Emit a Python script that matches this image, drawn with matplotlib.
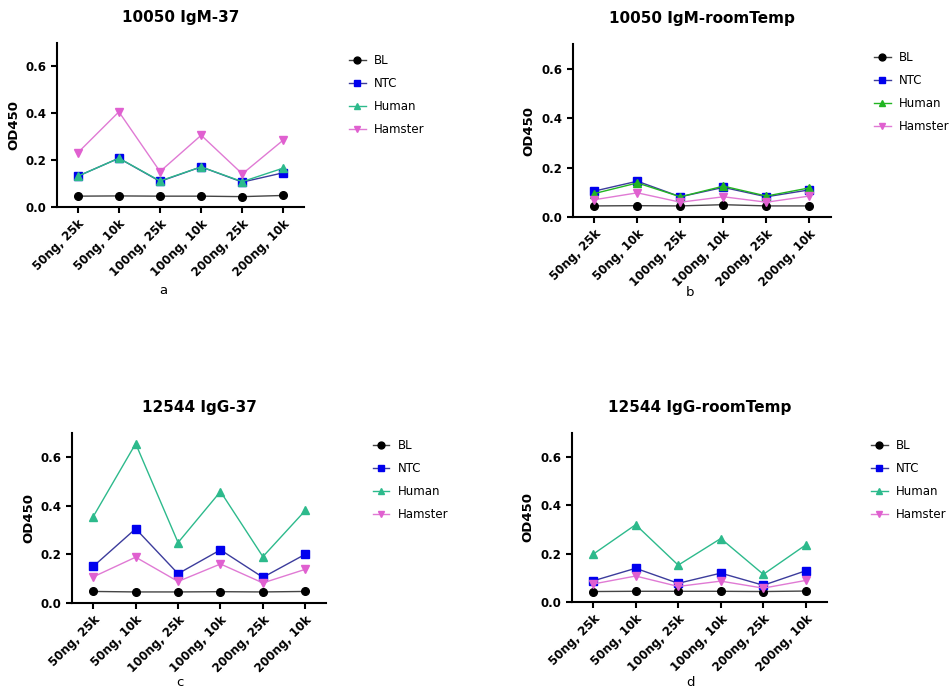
import matplotlib
matplotlib.use("Agg")
import matplotlib.pyplot as plt

conditions = ["50ng, 25k", "50ng, 10k", "100ng, 25k", "100ng, 10k", "200ng, 25k", "200ng, 10k"]
groups = ["BL", "NTC", "Human", "Hamster"]

# a: 10050 IgM-37
igm37_bl = [0.045, 0.046, 0.045, 0.045, 0.043, 0.048]
igm37_ntc = [0.130, 0.207, 0.108, 0.170, 0.105, 0.145]
igm37_human = [0.130, 0.207, 0.110, 0.170, 0.107, 0.165]
igm37_hamster = [0.230, 0.405, 0.150, 0.305, 0.140, 0.285]

# b: 10050 IgM-roomTemp
igmrt_bl = [0.045, 0.046, 0.045, 0.050, 0.045, 0.045]
igmrt_ntc = [0.105, 0.145, 0.082, 0.120, 0.082, 0.110]
igmrt_human = [0.095, 0.138, 0.082, 0.125, 0.085, 0.118]
igmrt_hamster = [0.070, 0.098, 0.060, 0.082, 0.060, 0.085]

# c: 12544 IgG-37
igg37_bl = [0.047, 0.045, 0.045, 0.046, 0.045, 0.047]
igg37_ntc = [0.150, 0.305, 0.120, 0.218, 0.105, 0.200]
igg37_human = [0.355, 0.655, 0.248, 0.458, 0.190, 0.380]
igg37_hamster = [0.107, 0.188, 0.088, 0.160, 0.082, 0.138]

# d: 12544 IgG-roomTemp
iggrt_bl = [0.044, 0.045, 0.045, 0.045, 0.044, 0.046]
iggrt_ntc = [0.088, 0.140, 0.078, 0.120, 0.070, 0.130]
iggrt_human = [0.198, 0.320, 0.153, 0.263, 0.115, 0.237]
iggrt_hamster = [0.075, 0.108, 0.065, 0.087, 0.058, 0.090]

panels = [
    ("10050 IgM-37", "a", [igm37_bl, igm37_ntc, igm37_human, igm37_hamster],
     [0.060, 0.700, 0.259, 0.238], (0.360, 0.930), (0.171, 0.578), "#2dba8c"),
    ("10050 IgM-roomTemp", "b", [igmrt_bl, igmrt_ntc, igmrt_human, igmrt_hamster],
     [0.601, 0.685, 0.271, 0.251], (0.911, 0.934), (0.724, 0.576), "#22b522"),
    ("12544 IgG-37", "c", [igg37_bl, igg37_ntc, igg37_human, igg37_hamster],
     [0.0756, 0.125, 0.267, 0.247], (0.385, 0.371), (0.189, 0.010), "#2dba8c"),
    ("12544 IgG-roomTemp", "d", [iggrt_bl, iggrt_ntc, iggrt_human, iggrt_hamster],
     [0.600, 0.126, 0.268, 0.246], (0.908, 0.371), (0.725, 0.010), "#2dba8c"),
]

fig = plt.figure(figsize=(9.53, 6.89), dpi=100)
x = range(len(conditions))

for title, letter, series, rect, leg_pos, let_pos, human_col in panels:
    ax = fig.add_axes(rect)
    styles = [
        dict(marker="o", color="#444444", mfc="black", mec="black", ms=5.5),
        dict(marker="s", color="#3c3c9c", mfc="#0000ee", mec="#0000ee", ms=5.5),
        dict(marker="^", color=human_col, mfc=human_col, mec=human_col, ms=5.5),
        dict(marker="v", color="#e07ad4", mfc="#e060d0", mec="#e060d0", ms=5.5),
    ]
    for name, vals, st in zip(groups, series, styles):
        ax.plot(x, vals, lw=1.0, label=name, **st)
    ax.set_xlim(-0.5, 5.5)
    ax.set_ylim(0, 0.7)
    ax.set_yticks([0.0, 0.2, 0.4, 0.6])
    ax.set_yticklabels(["0.0", "0.2", "0.4", "0.6"], fontsize=8.5, fontweight="bold")
    ax.set_xticks(list(x))
    ax.set_xticklabels(conditions, rotation=45, ha="right", rotation_mode="anchor",
                       fontsize=8.5, fontweight="bold")
    ax.set_ylabel("OD450", fontsize=9.5, fontweight="bold")
    ax.set_title(title, fontsize=11, fontweight="bold", pad=15)
    for s in ["top", "right"]:
        ax.spines[s].set_visible(False)
    for s in ["left", "bottom"]:
        ax.spines[s].set_linewidth(1.5)
    ax.tick_params(width=1.5, length=4)
    ax.legend(loc="upper left", bbox_to_anchor=leg_pos, bbox_transform=fig.transFigure,
              frameon=False, fontsize=8.5, borderpad=0, labelspacing=0.85,
              handlelength=1.4, handletextpad=0.7, markerscale=0.9)
    fig.text(let_pos[0], let_pos[1], letter, ha="center", va="center", fontsize=9.5)

fig.savefig("out.png", dpi=100)
